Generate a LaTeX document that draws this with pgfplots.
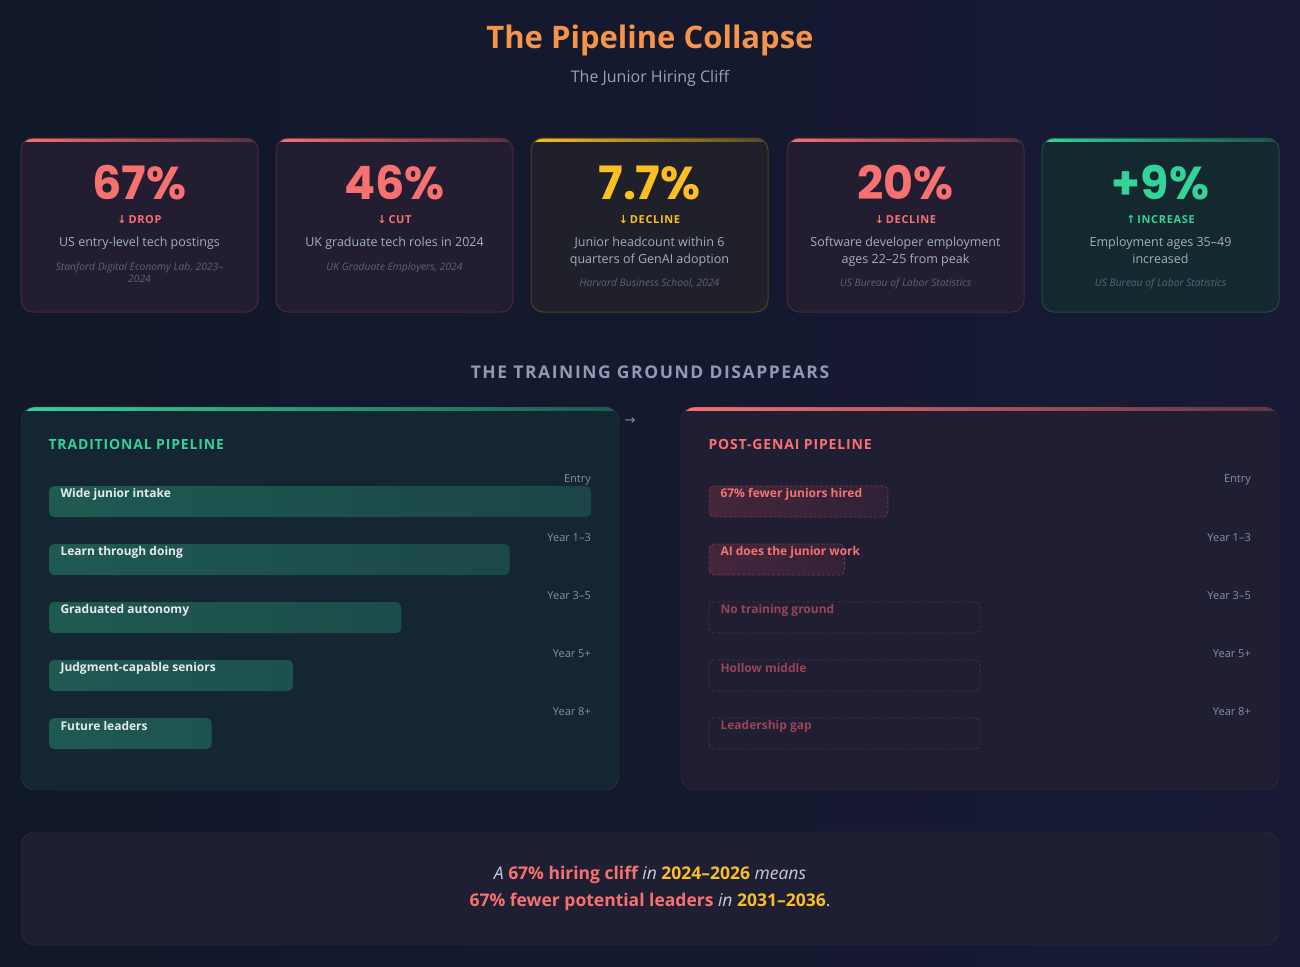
\documentclass[border=0pt]{standalone}
\usepackage{pgfplots}
\pgfplotsset{compat=1.18}
\usepackage{pgfplotstable}
\usepackage{fontspec}
\setmainfont{Open Sans}
\newfontfamily\numf{Poppins}
\newfontfamily\symf{DejaVu Sans}
\newfontfamily\spacedf[LetterSpace=6]{Open Sans}
\newfontfamily\widef[LetterSpace=9]{Open Sans}

% palette
\definecolor{bgA}{HTML}{111829}
\definecolor{bgB}{HTML}{181A35}
\definecolor{titleC}{HTML}{F7944A}
\definecolor{subC}{HTML}{9CA3AF}
\definecolor{accR}{HTML}{F87171}
\definecolor{accY}{HTML}{FBBF24}
\definecolor{accG}{HTML}{34D399}
\definecolor{fillR}{HTML}{221D30}
\definecolor{fillY}{HTML}{1F2029}
\definecolor{fillG}{HTML}{14292F}
\definecolor{bordR}{HTML}{4B2838}
\definecolor{bordY}{HTML}{4D4222}
\definecolor{bordG}{HTML}{1E4A45}
\definecolor{descC}{HTML}{A3AEC2}
\definecolor{srcC}{HTML}{5A647D}
\definecolor{headC}{HTML}{8E9BB2}
\definecolor{panelG}{HTML}{132631}
\definecolor{panelGb}{HTML}{1D4644}
\definecolor{panelR}{HTML}{1F1E33}
\definecolor{panelRb}{HTML}{4A2A3E}
\definecolor{barGa}{HTML}{1F5A51}
\definecolor{barGb}{HTML}{1B4546}
\definecolor{barRa}{HTML}{45263B}
\definecolor{barRb}{HTML}{2E2237}
\definecolor{barRd}{HTML}{7A3548}
\definecolor{ghostD}{HTML}{552C44}
\definecolor{ghostT}{HTML}{9B4456}
\definecolor{labC}{HTML}{E6EAF0}
\definecolor{stageC}{HTML}{8791A6}
\definecolor{boxF}{HTML}{1F1F33}
\definecolor{boxB}{HTML}{353048}
\definecolor{quoteC}{HTML}{C5CCDA}

% bar lengths, percent of full pipeline width
\pgfplotstableread{
i v
0 100
1 85
2 65
3 45
4 30
}\tradtab
\pgfplotstableread{
i v
0 33
1 25
}\postreal
\pgfplotstableread{
i v
2 50
3 50
4 50
}\postghost

\newcommand\card[8]{%
  \begin{scope}
    \clip[rounded corners=12] (#1,138) rectangle ++(237,174);
    \fill[fill#2] (#1,138) rectangle ++(237,174);
    \shade[left color=acc#2, right color=acc#2!25!fill#2] (#1,138) rectangle ++(237,3);
  \end{scope}
  \draw[bord#2, line width=1pt, rounded corners=12] (#1,138) rectangle ++(237,174);
  \node[text=acc#2, font=\numf\bfseries\fontsize{46}{48}\selectfont] at (#1+118.5,183) {#3};
  \node[text=acc#2, font=\spacedf\bfseries\fontsize{11}{13}\selectfont] at (#1+118.5,219.5) {{\symf\bfseries\fontsize{11}{12}\selectfont #4}\,#5};
  \node[text=descC, font=\fontsize{12.5}{17}\selectfont, align=center, anchor=north, inner sep=0pt] at (#1+118.5,237) {#6};
  \node[text=srcC, font=\itshape\fontsize{10.3}{12}\selectfont, align=center, anchor=north, inner sep=0pt] at (#1+118.5,#7) {#8};
}

\pgfplotsset{pipe/.style={
  scale only axis, width=542pt, height=348pt, anchor=north west,
  xmin=0, xmax=100, ymin=-1, ymax=5, y dir=reverse,
  hide axis, clip=false, xbar, bar width=31pt, bar shift=0pt}}

\begin{document}
\begin{tikzpicture}[x=1pt,y=-1pt]
\useasboundingbox (0,0) rectangle (1300,966);
\shade[left color=bgA, right color=bgB] (0,0) rectangle (1300,966);

% header
\node[text=titleC, font=\bfseries\fontsize{31}{36}\selectfont] at (650,40) {The Pipeline Collapse};
\node[text=subC, font=\fontsize{16}{19}\selectfont] at (650,78) {The Junior Hiring Cliff};

% stat cards
\card{21}{R}{67\%}{↓}{DROP}{US entry-level tech postings}{262}{Stanford Digital Economy Lab, 2023–\\2024}
\card{276}{R}{46\%}{↓}{CUT}{UK graduate tech roles in 2024}{262}{UK Graduate Employers, 2024}
\card{531}{Y}{7.7\%}{↓}{DECLINE}{Junior headcount within 6\\quarters of GenAI adoption}{278}{Harvard Business School, 2024}
\card{787}{R}{20\%}{↓}{DECLINE}{Software developer employment\\ages 22–25 from peak}{278}{US Bureau of Labor Statistics}
\card{1042}{G}{+9\%}{↑}{INCREASE}{Employment ages 35–49\\increased}{278}{US Bureau of Labor Statistics}

\node[text=headC, font=\widef\bfseries\fontsize{17.5}{20}\selectfont] at (650,372) {THE TRAINING GROUND DISAPPEARS};

% panels
\begin{scope}
  \clip[rounded corners=14] (21,407) rectangle (619,790);
  \fill[panelG] (21,407) rectangle (619,790);
  \shade[left color=accG, right color=accG!30!panelG] (21,407) rectangle (619,410);
\end{scope}
\draw[panelGb, rounded corners=14] (21,407) rectangle (619,790);
\begin{scope}
  \clip[rounded corners=14] (681,407) rectangle (1279,790);
  \fill[panelR] (681,407) rectangle (1279,790);
  \shade[left color=accR, right color=accR!30!panelR] (681,407) rectangle (1279,410);
\end{scope}
\draw[panelRb, rounded corners=14] (681,407) rectangle (1279,790);
\node[text=stageC, font=\symf\fontsize{13}{14}\selectfont] at (630,421) {→};

\node[text=accG, anchor=west, font=\spacedf\bfseries\fontsize{14}{17}\selectfont] at (45,444) {TRADITIONAL PIPELINE};
\node[text=accR, anchor=west, font=\spacedf\bfseries\fontsize{14}{17}\selectfont] at (705,444) {POST-GENAI PIPELINE};

\begin{axis}[pipe, at={(49pt,-443.5pt)}]
\addplot[left color=barGa, right color=barGb, draw=none, rounded corners=5pt] table[x=v, y=i] {\tradtab};
\begin{scope}[every node/.style={anchor=west, text=labC, font=\bfseries\fontsize{12}{14}\selectfont, yshift=7.5pt, xshift=8pt}]
\node at (axis cs:0,0) {Wide junior intake};
\node at (axis cs:0,1) {Learn through doing};
\node at (axis cs:0,2) {Graduated autonomy};
\node at (axis cs:0,3) {Judgment-capable seniors};
\node at (axis cs:0,4) {Future leaders};
\end{scope}
\begin{scope}[every node/.style={anchor=east, text=stageC, font=\fontsize{11}{13}\selectfont, yshift=22pt, inner xsep=0pt}]
\node at (axis cs:100,0) {Entry};
\node at (axis cs:100,1) {Year 1–3};
\node at (axis cs:100,2) {Year 3–5};
\node at (axis cs:100,3) {Year 5+};
\node at (axis cs:100,4) {Year 8+};
\end{scope}
\end{axis}

\begin{axis}[pipe, at={(709pt,-443.5pt)}]
\addplot[left color=barRa, right color=barRb, draw=barRd, line width=0.8pt, dash pattern=on 3pt off 2pt, rounded corners=5pt] table[x=v, y=i] {\postreal};
\addplot[fill=none, draw=ghostD, line width=0.8pt, dash pattern=on 3pt off 2pt, rounded corners=5pt] table[x=v, y=i] {\postghost};
\begin{scope}[every node/.style={anchor=west, font=\bfseries\fontsize{12}{14}\selectfont, yshift=7.5pt, xshift=8pt}]
\node[text=accR] at (axis cs:0,0) {67\% fewer juniors hired};
\node[text=accR] at (axis cs:0,1) {AI does the junior work};
\node[text=ghostT] at (axis cs:0,2) {No training ground};
\node[text=ghostT] at (axis cs:0,3) {Hollow middle};
\node[text=ghostT] at (axis cs:0,4) {Leadership gap};
\end{scope}
\begin{scope}[every node/.style={anchor=east, text=stageC, font=\fontsize{11}{13}\selectfont, yshift=22pt, inner xsep=0pt}]
\node at (axis cs:100,0) {Entry};
\node at (axis cs:100,1) {Year 1–3};
\node at (axis cs:100,2) {Year 3–5};
\node at (axis cs:100,3) {Year 5+};
\node at (axis cs:100,4) {Year 8+};
\end{scope}
\end{axis}

% closing statement
\fill[boxF, rounded corners=14] (21,832) rectangle (1279,945);
\draw[boxB, rounded corners=14] (21,832) rectangle (1279,945);
\node[text=quoteC, font=\fontsize{17.5}{21}\selectfont] at (650,875)
  {\itshape A \upshape\bfseries\textcolor{accR}{67\% hiring cliff} \mdseries\itshape in \upshape\bfseries\textcolor{accY}{2024–2026} \mdseries\itshape means};
\node[text=quoteC, font=\fontsize{17.5}{21}\selectfont] at (650,902)
  {\bfseries\textcolor{accR}{67\% fewer potential leaders} \mdseries\itshape in \upshape\bfseries\textcolor{accY}{2031–2036}\mdseries.};
\end{tikzpicture}
\end{document}
